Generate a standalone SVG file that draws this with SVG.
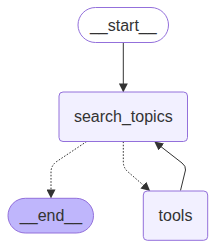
<svg xmlns="http://www.w3.org/2000/svg" width="216" height="249" viewBox="0 0 216 249">
<style>
.node rect{fill:#f2f0ff;stroke:#9370db;stroke-width:1px}
.first rect{fill:#ffffff;fill-opacity:0}
.last rect{fill:#bfb6fc}
.label{font-family:"Liberation Sans",Arial,sans-serif;font-size:16px;fill:#333333;text-anchor:middle;dominant-baseline:central}
.edge{fill:none;stroke:#333333;stroke-width:1px}
.dotted{stroke-dasharray:1.6 1.6}
</style>
<defs>
<marker id="arrow" viewBox="0 0 10 10" refX="9" refY="5" markerUnits="userSpaceOnUse" markerWidth="9" markerHeight="9" orient="auto">
<path d="M0,0 L10,5 L0,10 z" fill="#333333"/>
</marker>
</defs>
<g id="edges">
<path class="edge" d="M123.3,42.5 L123.3,91.5" marker-end="url(#arrow)"/>
<path class="edge dotted" d="M86.7,141.5 L56,162 Q51,166 51,172 L51,197.5" marker-end="url(#arrow)"/>
<path class="edge dotted" d="M123.3,141.5 L123.3,162 Q123.3,167 127,171 L149.5,190.5" marker-end="url(#arrow)"/>
<path class="edge" d="M180.5,190.5 L185.5,170 Q186,166 182,163 L155,142" marker-end="url(#arrow)"/>
</g>
<g id="node-start" class="node first">
<rect x="78" y="7.5" width="90.5" height="35" rx="17.5" ry="17.5"/>
<text class="label" x="123.3" y="25">__start__</text>
</g>
<g id="node-search_topics" class="node">
<rect x="59" y="92" width="128.5" height="49.5" rx="4" ry="4"/>
<text class="label" x="123.3" y="116.7">search_topics</text>
</g>
<g id="node-end" class="node last">
<rect x="8" y="198.3" width="85.5" height="34.7" rx="17.3" ry="17.3"/>
<text class="label" x="51" y="215.6">__end__</text>
</g>
<g id="node-tools" class="node">
<rect x="143.3" y="191" width="64.4" height="49.3" rx="4" ry="4"/>
<text class="label" x="175.5" y="215.6">tools</text>
</g>
</svg>
